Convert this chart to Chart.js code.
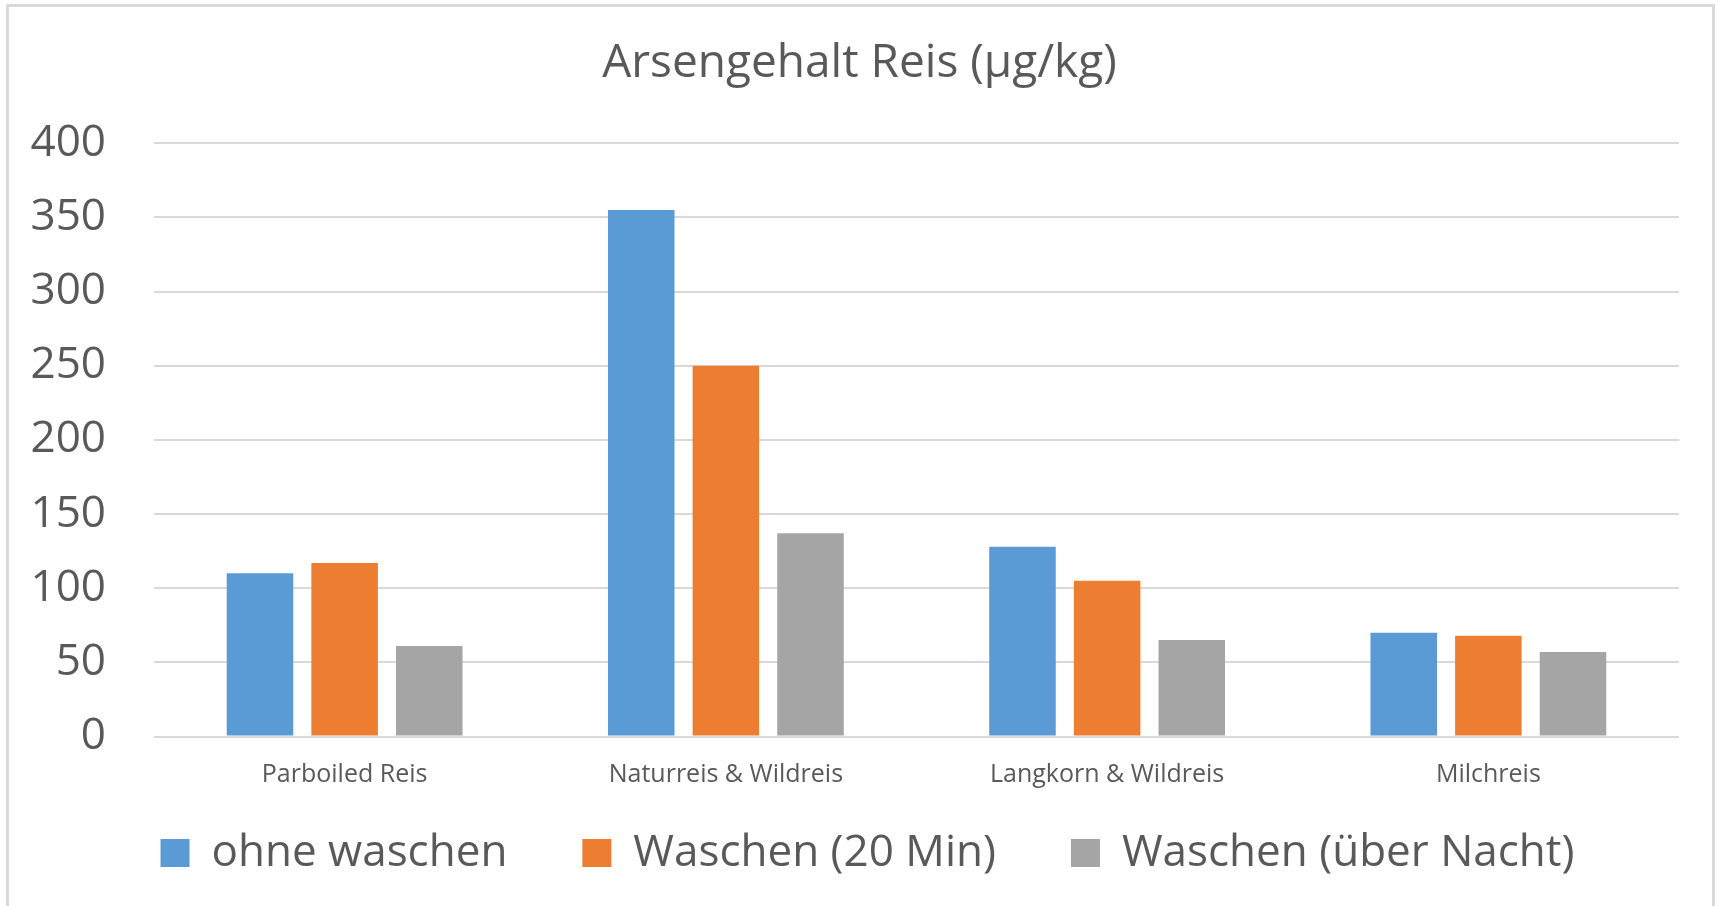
<!DOCTYPE html>
<html>
<head>
<meta charset="utf-8">
<script src="https://cdn.jsdelivr.net/npm/chart.js@4.4.1/dist/chart.umd.min.js"></script>
<style>
  html, body { margin: 0; padding: 0; background: #ffffff; overflow: hidden; }
  #wrap { position: relative; width: 1717px; height: 906px; }
  #c { position: absolute; left: 0; top: 0; }
  #frame { position: absolute; left: 6px; top: 4px; width: 1709px; height: 930px;
           box-sizing: border-box; border: 3px solid #d9d9d9; pointer-events: none; }
</style>
</head>
<body>
<div id="wrap">
  <canvas id="c" width="1717" height="906"></canvas>
  <div id="frame"></div>
</div>
<script>
const chartTitle = 'Arsengehalt Reis (µg/kg)';
const categories = ['Parboiled Reis', 'Naturreis & Wildreis', 'Langkorn & Wildreis', 'Milchreis'];
const seriesNames = ['ohne waschen', 'Waschen (20 Min)', 'Waschen (über Nacht)'];
const ohneWaschen = [110, 355, 128, 70];
const waschen20Min = [117, 250, 105, 68];
const waschenNacht = [61, 137, 65, 57];
const yTicks = [0, 50, 100, 150, 200, 250, 300, 350, 400];
const seriesColors = ['#5B9BD5', '#ED7D31', '#A5A5A5'];

const textColor = '#595959';
const fontFamily = "'Open Sans', 'Noto Sans', sans-serif";
const seriesValues = [ohneWaschen, waschen20Min, waschenNacht];

// layout tweaks: horizontal centre shifts for title/legend and legend top position
const placeBoxes = {
  id: 'placeBoxes',
  afterLayout(chart) {
    const t = chart.titleBlock;
    if (t) { t.left += 10; t.right += 10; }
    const l = chart.legend;
    if (l) {
      l.left += 18; l.right += 18;
      l.top = 756; l.bottom = chart.height;
    }
  }
};

new Chart(document.getElementById('c'), {
  type: 'bar',
  data: {
    labels: categories,
    datasets: seriesNames.map((name, i) => ({
      label: name,
      data: seriesValues[i],
      backgroundColor: seriesColors[i],
      borderWidth: 0,
      categoryPercentage: 0.666,
      barPercentage: 0.786
    }))
  },
  plugins: [placeBoxes],
  options: {
    responsive: false,
    animation: false,
    devicePixelRatio: 1,
    layout: { padding: { left: 20, right: 38, top: 0, bottom: 49.5 } },
    plugins: {
      title: {
        display: true,
        text: chartTitle,
        color: textColor,
        font: { family: fontFamily, size: 46, weight: 'normal' },
        padding: { top: 36, bottom: 52 }
      },
      legend: {
        display: true,
        position: 'bottom',
        maxHeight: 60,
        labels: {
          color: textColor,
          font: { family: fontFamily, size: 44 },
          boxWidth: 29,
          boxHeight: 28,
          padding: 75
        }
      },
      tooltip: { enabled: false }
    },
    scales: {
      x: {
        grid: { display: false },
        border: { display: false },
        ticks: {
          color: textColor,
          font: { family: fontFamily, size: 25 },
          padding: 15.5,
          maxRotation: 0
        },
        afterFit: (s) => { s.height = 60; }
      },
      y: {
        min: yTicks[0],
        max: yTicks[yTicks.length - 1],
        afterBuildTicks: (s) => { s.ticks = yTicks.map(v => ({ value: v })); },
        grid: { color: '#d9d9d9', lineWidth: 2, drawTicks: false },
        border: { display: false },
        ticks: {
          color: textColor,
          font: { family: fontFamily, size: 44 },
          padding: 48
        },
        afterFit: (s) => { s.width = 134; }
      }
    }
  }
});
</script>
</body>
</html>
